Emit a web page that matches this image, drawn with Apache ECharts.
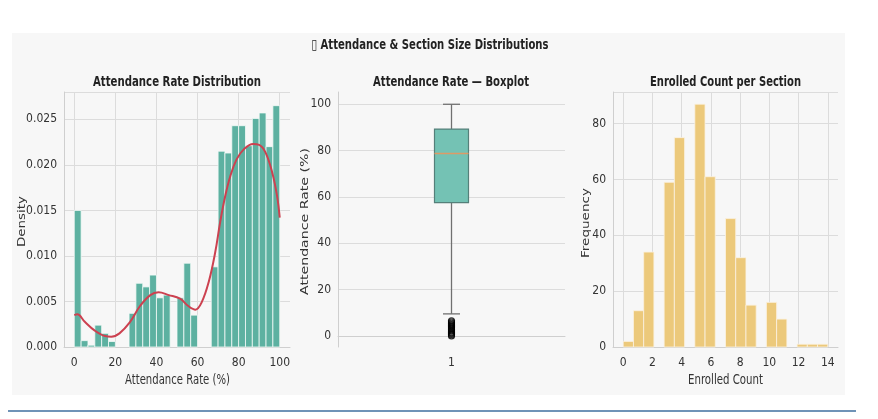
<!DOCTYPE html>
<html>
<head>
<meta charset="utf-8">
<script src="https://cdn.jsdelivr.net/npm/echarts@6/dist/echarts.min.js"></script>
<style>
html,body{margin:0;padding:0;background:#ffffff;}
#chart{width:878px;height:419px;}
</style>
</head>
<body>
<div id="chart"></div>
<script>
// ---- data ----
const mainTitle = '\u25AF Attendance & Section Size Distributions';
const panelTitles = ['Attendance Rate Distribution', 'Attendance Rate \u2014 Boxplot', 'Enrolled Count per Section'];
const xNames = ['Attendance Rate (%)', '', 'Enrolled Count'];
const yNames = ['Density', 'Attendance Rate (%)', 'Frequency'];

// Attendance rate histogram: 30 bins over 0..100 (density)
const attBinStart = 0;
const attBinWidth = 100 / 30;
const attDensity = [
  0.0150, 0.0007, 0.0002, 0.0024, 0.0015, 0.0006, 0, 0, 0.0037, 0.0070,
  0.0066, 0.0079, 0.0054, 0.0057, 0, 0.0054, 0.0092, 0.0035, 0, 0,
  0.0088, 0.0215, 0.0213, 0.0243, 0.0243, 0.0221, 0.0251, 0.0257, 0.0220, 0.0265
];
// KDE curve
const kdeX = [0, 1.5, 5, 10, 15, 18, 22, 27, 32, 37, 41, 46, 51.5, 55.5, 59, 62, 65.5, 68.6, 71, 73.5, 76, 79, 82.5, 87, 90, 93, 96.3, 98.7, 100];
const kdeY = [0.0035, 0.0036, 0.0028, 0.0018, 0.0012, 0.00113, 0.0015, 0.0027, 0.0045, 0.0057, 0.0060, 0.0057, 0.0053, 0.0045, 0.0041, 0.0049, 0.0072, 0.0104, 0.0137, 0.0166, 0.0188, 0.0206, 0.0217, 0.0223, 0.0222, 0.0214, 0.0192, 0.0166, 0.0142];
const attTicksX = [0, 20, 40, 60, 80, 100];

// Boxplot: [lower whisker, Q1, median, Q3, upper whisker]
const boxCategories = ['1'];
const boxStats = [9.5, 57.5, 78.8, 89.3, 100];
const boxOutliers = [0, 0.5, 1, 1.5, 2, 2.5, 3, 3.5, 4, 4.5, 5, 5.5, 6, 6.5];
const boxTicksY = [0, 20, 40, 60, 80, 100];

// Enrolled count histogram: 20 bins over 0..14
const enrBinStart = 0;
const enrBinWidth = 14 / 20;
const enrCounts = [2, 13, 34, 0, 59, 75, 0, 87, 61, 0, 46, 32, 15, 0, 16, 10, 0, 1, 1, 1];
const enrTicksX = [0, 2, 4, 6, 8, 10, 12, 14];

// ---- build ----
function histData(start, width, vals) {
  return vals.map((v, i) => [start + i * width, start + (i + 1) * width, v]);
}
function histRender(fill, stroke) {
  return function (params, api) {
    const v = api.value(2);
    if (!v) return null;
    const p0 = api.coord([api.value(0), v]);
    const p1 = api.coord([api.value(1), 0]);
    return {
      type: 'rect',
      shape: { x: p0[0], y: p0[1], width: p1[0] - p0[0], height: p1[1] - p0[1] },
      style: { fill: fill, stroke: stroke, lineWidth: 0.8 }
    };
  };
}

const condFont = 'DejaVu Sans Condensed, DejaVu Sans, sans-serif';
const txt = '#333333';
const gridCol = '#dcdcdc';
const axisCol = '#cfcfcf';
const tickSize = 12;

// squeezed text labels (the reference looks horizontally compressed)
const measureCtx = document.createElement('canvas').getContext('2d');
function squeezedText(text, font, cx, cy, targetLen, rotated, color) {
  measureCtx.font = font;
  const w = measureCtx.measureText(text).width;
  const s = targetLen / w;
  const el = {
    type: 'text', x: cx, y: cy, z: 20,
    style: { text: text, font: font, fill: color, align: 'center', verticalAlign: 'middle', textAlign: 'center', textVerticalAlign: 'middle' }
  };
  if (rotated) {
    el.rotation = Math.PI / 2;
    el.scaleX = s;
    el.scaleY = 0.78;
  } else {
    el.scaleX = s;
  }
  return el;
}
const boldFont = 'bold 14px "DejaVu Sans"';
const regFont = '14px "DejaVu Sans"';

function valueAxis(extra) {
  return Object.assign({
    type: 'value',
    axisLine: { show: true, onZero: false, lineStyle: { color: axisCol, width: 1 } },
    axisTick: { show: false },
    axisLabel: { color: txt, fontSize: tickSize, fontFamily: condFont, margin: 7 },
    splitLine: { show: true, lineStyle: { color: gridCol, width: 1 } }
  }, extra);
}

const gridTop = 92, gridH = 255;
const xLabel = (ticks) => ({ color: txt, fontSize: tickSize, fontFamily: condFont, margin: 10, customValues: ticks });
const option = {
  animation: false,
  backgroundColor: '#ffffff',
  graphic: [
    { type: 'rect', left: 12, top: 33, shape: { width: 833, height: 362 }, style: { fill: '#f7f7f7' }, z: -10 },
    { type: 'line', shape: { x1: 8, y1: 411, x2: 856, y2: 411 }, style: { stroke: '#3f6f9f', lineWidth: 1.5 }, z: -10 },
    squeezedText(mainTitle, boldFont, 430, 45, 237, false, '#222'),
    squeezedText(panelTitles[0], boldFont, 177, 82, 168, false, '#222'),
    squeezedText(panelTitles[1], boldFont, 451, 82, 156, false, '#222'),
    squeezedText(panelTitles[2], boldFont, 725.5, 82, 151, false, '#222'),
    squeezedText(xNames[0], regFont, 177.5, 380, 105, false, txt),
    squeezedText(xNames[2], regFont, 725.5, 380, 75, false, txt),
    squeezedText(yNames[0], regFont, 22.5, 221.5, 51, true, txt),
    squeezedText(yNames[1], regFont, 305, 221.5, 147, true, txt),
    squeezedText(yNames[2], regFont, 586, 223, 70, true, txt)
  ],
  grid: [
    { left: 64, top: gridTop, width: 226, height: gridH },
    { left: 338, top: gridTop, width: 227, height: gridH },
    { left: 613, top: gridTop, width: 225, height: gridH }
  ],
  xAxis: [
    valueAxis({ gridIndex: 0, min: -5, max: 105,
      axisTick: { show: false, customValues: attTicksX }, axisLabel: xLabel(attTicksX) }),
    { type: 'category', gridIndex: 1, data: boxCategories, boundaryGap: true,
      axisLine: { show: true, lineStyle: { color: axisCol } }, axisTick: { show: false },
      axisLabel: { color: txt, fontSize: tickSize, fontFamily: condFont, margin: 10 },
      splitLine: { show: false } },
    valueAxis({ gridIndex: 2, min: -0.7, max: 14.7,
      axisTick: { show: false, customValues: enrTicksX }, axisLabel: xLabel(enrTicksX) })
  ],
  yAxis: [
    valueAxis({ gridIndex: 0, min: 0, max: 0.028, interval: 0.005,
      axisLabel: { color: txt, fontSize: tickSize, fontFamily: condFont, margin: 7, showMaxLabel: false, formatter: v => v.toFixed(3) } }),
    valueAxis({ gridIndex: 1, min: -4.8, max: 105.3,
      axisTick: { show: false, customValues: boxTicksY },
      axisLabel: { color: txt, fontSize: tickSize, fontFamily: condFont, margin: 7, customValues: boxTicksY } }),
    valueAxis({ gridIndex: 2, min: 0, max: 91.35, interval: 20,
      axisLabel: { color: txt, fontSize: tickSize, fontFamily: condFont, margin: 7, showMaxLabel: false } })
  ],
  series: [
    { type: 'custom', xAxisIndex: 0, yAxisIndex: 0, data: histData(attBinStart, attBinWidth, attDensity),
      encode: { x: [0, 1], y: 2 }, renderItem: histRender('#5db1a1', '#f4faf8'), z: 2 },
    { type: 'line', xAxisIndex: 0, yAxisIndex: 0, data: kdeX.map((x, i) => [x, kdeY[i]]),
      smooth: 0.4, showSymbol: false, lineStyle: { color: '#cc4150', width: 2 }, z: 5 },
    { type: 'custom', xAxisIndex: 1, yAxisIndex: 1, data: [[0].concat(boxStats)],
      encode: { x: 0, y: [1, 2, 3, 4, 5] },
      renderItem: function (params, api) {
        const x = api.value(0);
        const pMin = api.coord([x, api.value(1)]);
        const pQ1 = api.coord([x, api.value(2)]);
        const pMed = api.coord([x, api.value(3)]);
        const pQ3 = api.coord([x, api.value(4)]);
        const pMax = api.coord([x, api.value(5)]);
        const hw = 17, cw = 8.5, cx = pMed[0];
        const ws = { stroke: '#707070', lineWidth: 1.3 };
        return { type: 'group', children: [
          { type: 'line', shape: { x1: cx, y1: pQ1[1], x2: cx, y2: pMin[1] }, style: ws },
          { type: 'line', shape: { x1: cx, y1: pQ3[1], x2: cx, y2: pMax[1] }, style: ws },
          { type: 'line', shape: { x1: cx - cw, y1: pMin[1], x2: cx + cw, y2: pMin[1] }, style: ws },
          { type: 'line', shape: { x1: cx - cw, y1: pMax[1], x2: cx + cw, y2: pMax[1] }, style: ws },
          { type: 'rect', shape: { x: cx - hw, y: pQ3[1], width: 2 * hw, height: pQ1[1] - pQ3[1] },
            style: { fill: '#74c2b4', stroke: '#55807a', lineWidth: 1.2 } },
          { type: 'line', shape: { x1: cx - hw, y1: pMed[1], x2: cx + hw, y2: pMed[1] }, style: { stroke: '#dd9a66', lineWidth: 1.5 } }
        ] };
      }, z: 3 },
    { type: 'scatter', xAxisIndex: 1, yAxisIndex: 1, data: boxOutliers.map(v => [0, v]),
      symbol: 'circle', symbolSize: 6, itemStyle: { color: 'rgba(255,255,255,0)', borderColor: '#000', borderWidth: 1.2 }, z: 4 },
    { type: 'custom', xAxisIndex: 2, yAxisIndex: 2, data: histData(enrBinStart, enrBinWidth, enrCounts),
      encode: { x: [0, 1], y: 2 }, renderItem: histRender('#ecc97b', '#fbf3e2'), z: 2 }
  ]
};
const chart = echarts.init(document.getElementById('chart'), null, { renderer: 'canvas' });
chart.setOption(option);
</script>
</body>
</html>
